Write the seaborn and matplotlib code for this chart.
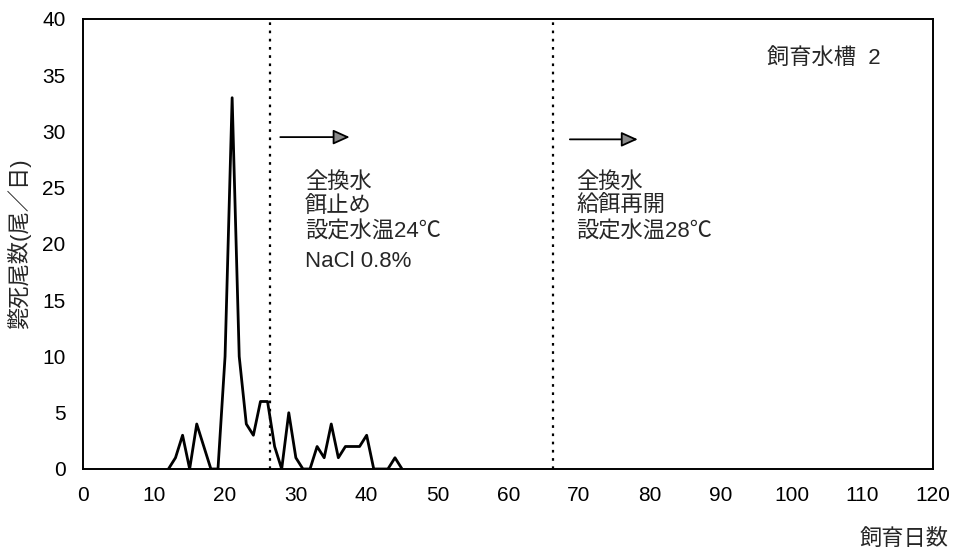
import numpy as np
import pandas as pd
import matplotlib
matplotlib.use('Agg')
import matplotlib.pyplot as plt
import seaborn as sns
from matplotlib.ticker import MultipleLocator

# daily deaths, days 12..45 (zero elsewhere)
days = list(range(12, 46))
deaths = [0, 1, 3, 0, 4, 2, 0, 0, 10, 33, 10, 4, 3, 6, 6, 2, 0, 5, 1, 0,
          0, 2, 1, 4, 1, 2, 2, 2, 3, 0, 0, 0, 1, 0]

event_days = [26.3, 66.3]
notes_1 = ['全換水', '餌止め', '設定水温24℃', 'NaCl 0.8%']
notes_2 = ['全換水', '給餌再開', '設定水温28℃']
note_rows = [25.5, 23.3, 21.1, 18.4]
tank_label = '飼育水槽  2'
x_ticks = list(range(0, 121, 10))
y_ticks = list(range(0, 41, 5))

sns.set_style('white')
plt.rcParams['font.family'] = ['Liberation Sans', 'Noto Sans CJK JP', 'DejaVu Sans']

df = pd.DataFrame({'day': days, 'deaths': deaths})

fig = plt.figure(figsize=(9.56, 5.58), dpi=100)
ax = fig.add_axes([0.0873, 0.1595, 0.8887, 0.8065])

sns.lineplot(data=df, x='day', y='deaths', color='black', linewidth=2, ax=ax)

for d in event_days:
    ax.axvline(d, color='black', linestyle=(0, (1.2, 2.5)), linewidth=1.6)

ax.set_xlim(0, 120)
ax.set_ylim(0, 40)
ax.set_xticks(x_ticks)
ax.set_yticks(y_ticks)
ax.xaxis.set_minor_locator(MultipleLocator(2))
ax.yaxis.set_minor_locator(MultipleLocator(1))
ax.tick_params(axis='both', which='major', direction='in', length=4,
               width=1, labelsize=15, colors='black')
ax.tick_params(axis='both', which='minor', direction='in', length=2, width=0.6)
ax.tick_params(axis='x', pad=12)
ax.tick_params(axis='y', pad=13)
for sp in ax.spines.values():
    sp.set_color('black')
    sp.set_linewidth(1.4)

ax.set_xlabel('')
ax.set_ylabel('斃死尾数(尾／日)', fontsize=16, labelpad=8)
fig.text(0.992, 0.015, '飼育日数', ha='right', va='bottom', fontsize=16)

# arrows with grey heads
arrow_kw = dict(arrowstyle='-|>,head_length=1.0,head_width=0.45',
                facecolor='#8a8a8a', edgecolor='black', linewidth=1.3,
                shrinkA=0, shrinkB=0)
ax.annotate('', xy=(37.6, 29.5), xytext=(27.8, 29.5), arrowprops=arrow_kw)
ax.annotate('', xy=(78.3, 29.3), xytext=(68.7, 29.3), arrowprops=arrow_kw)

for y, line in zip(note_rows, notes_1):
    ax.text(31.3, y, line, fontsize=16, va='center', ha='left')
for y, line in zip(note_rows, notes_2):
    ax.text(69.6, y, line, fontsize=16, va='center', ha='left')

ax.text(96.5, 36.5, tank_label, fontsize=16, va='center', ha='left')

fig.savefig('out.png', dpi=100)
